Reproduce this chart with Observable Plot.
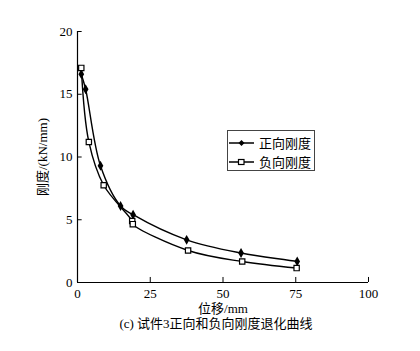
<!DOCTYPE html>
<html><head><meta charset="utf-8">
<script src="https://cdn.jsdelivr.net/npm/d3@7"></script>
<script src="https://cdn.jsdelivr.net/npm/@observablehq/plot@0.6"></script>
<style>
body{margin:0;background:#fff;}
#wrap{position:relative;width:420px;height:351px;overflow:hidden;}
#cap{position:absolute;left:0;width:432px;top:313px;text-align:center;font:13px "Liberation Serif","Noto Sans CJK SC",serif;color:#000;}
#legend{position:absolute;left:227px;top:130px;width:86px;height:39px;border:1px solid #444;background:#fff;font:13px "Noto Sans CJK SC",sans-serif;}
.row{position:absolute;left:0px;height:18px;display:flex;align-items:center;white-space:nowrap;}
.row span{margin-left:5px;white-space:nowrap;line-height:18px;}
.row svg{flex:none;}
</style></head>
<body><div id="wrap"><div id="chart"></div>
<div id="legend"></div>
<div id="cap">(c) 试件3正向和负向刚度退化曲线</div></div>
<script>
const posX = [1.3, 2.8, 7.9, 14.8, 19.1, 37.5, 56.2, 75.5];
const posY = [16.6, 15.4, 9.3, 6.1, 5.4, 3.4, 2.35, 1.68];
const negX = [1.3, 3.9, 9.0, 18.8, 19.0, 38.0, 56.6, 75.3];
const negY = [17.1, 11.2, 7.75, 4.9, 4.65, 2.55, 1.67, 1.15];
const xTicks = [0, 25, 50, 75, 100];
const yTicks = [0, 5, 10, 15, 20];
const seriesNames = ["正向刚度", "负向刚度"];

const pos = posX.map((x, i) => ({x, y: posY[i]}));
const neg = negX.map((x, i) => ({x, y: negY[i]}));
const serif = '"Liberation Serif", "Times New Roman", serif';

const chart = Plot.plot({
  width: 420, height: 318,
  marginLeft: 77, marginRight: 52, marginTop: 31, marginBottom: 36,
  style: {fontFamily: serif, fontSize: "13px", color: "#000", background: "#fff"},
  x: {domain: [0, 100]},
  y: {domain: [0, 20]},
  marks: [
    Plot.axisX({ticks: xTicks, tickSize: 0, tickPadding: 6, fontSize: 13, fontFamily: serif,
      label: "位移/mm", labelAnchor: "center", labelArrow: "none", labelOffset: 30}),
    Plot.axisY({ticks: yTicks, tickSize: 0, tickPadding: 5, fontSize: 13, fontFamily: serif,
      label: "刚度/(kN/mm)", labelAnchor: "center", labelArrow: "none", labelOffset: 40}),
    Plot.ruleX(xTicks, {x: d => d, y1: 0, y2: 0.4, stroke: "#000", strokeWidth: 1}),
    Plot.ruleY(yTicks, {y: d => d, x1: 0, x2: 1.6, stroke: "#000", strokeWidth: 1}),
    Plot.ruleY([0], {x1: 0, x2: 100, stroke: "#000", strokeWidth: 1.2}),
    Plot.ruleX([0], {y1: 0, y2: 20, stroke: "#000", strokeWidth: 1.2}),
    Plot.line(pos, {x: "x", y: "y", curve: "catmull-rom", stroke: "#000", strokeWidth: 1.4}),
    Plot.line(neg, {x: "x", y: "y", curve: "catmull-rom", stroke: "#000", strokeWidth: 1.4}),
    Plot.dot(pos, {x: "x", y: "y", symbol: "diamond", r: 3, fill: "#000"}),
    Plot.dot(neg, {x: "x", y: "y", symbol: "square", r: 3, fill: "#fff", stroke: "#000", strokeWidth: 1.2})
  ]
});
chart.querySelectorAll("text").forEach(t => {
  if (/[\u4e00-\u9fff]/.test(t.textContent)) t.style.fontFamily = '"Liberation Serif","Noto Sans CJK SC",serif';
});
document.getElementById("chart").appendChild(chart);

const lg = document.getElementById("legend");
const syms = [
  '<svg width="26" height="10"><line x1="1" y1="5" x2="26" y2="5" stroke="#000" stroke-width="1.5"/><path d="M13.5,2L16.5,5L13.5,8L10.5,5Z" fill="#000"/></svg>',
  '<svg width="26" height="10"><line x1="1" y1="5" x2="26" y2="5" stroke="#000" stroke-width="1.5"/><rect x="10.5" y="2.5" width="5.5" height="5" fill="#fff" stroke="#000" stroke-width="1.2"/></svg>'
];
seriesNames.forEach((n, i) => {
  const r = document.createElement("div");
  r.className = "row";
  r.style.top = (i === 0 ? 3 : 22) + "px";
  r.innerHTML = syms[i] + "<span>" + n + "</span>";
  lg.appendChild(r);
});
</script></body></html>
